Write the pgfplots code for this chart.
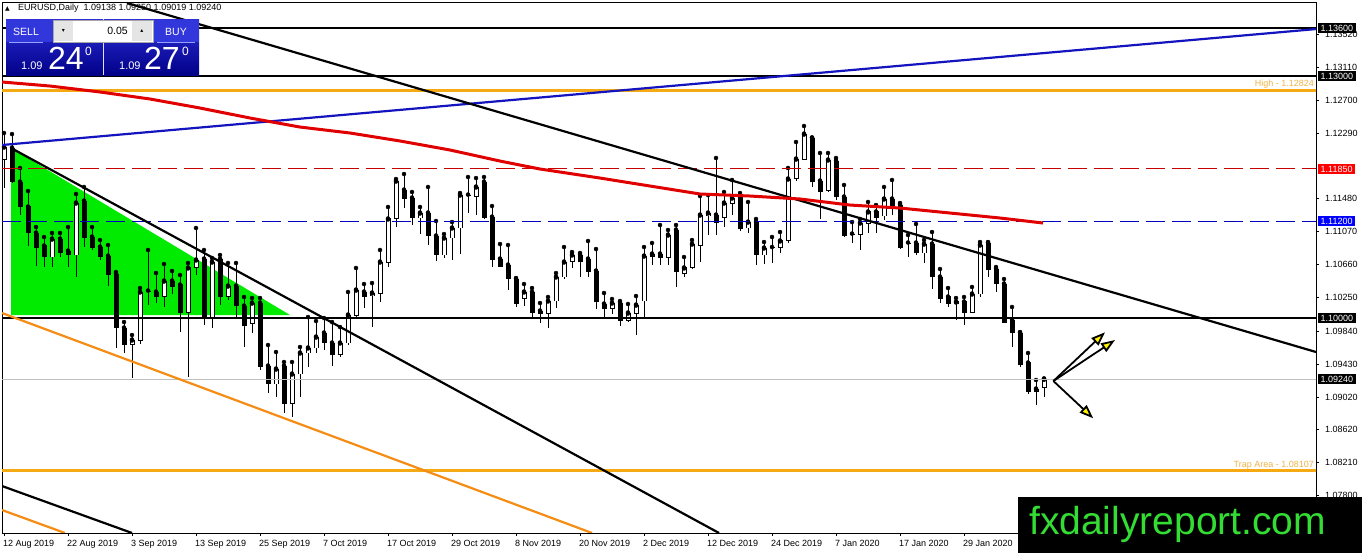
\documentclass[border=0pt]{standalone}
\usepackage{fontspec}
\setmainfont{Liberation Sans}
\newfontfamily\dejavu{DejaVu Sans}
\usepackage{pgfplots}
\pgfplotsset{compat=1.18}
\usepackage{pgfplotstable}
\usetikzlibrary{arrows.meta}

\definecolor{goldline}{RGB}{245,170,20}
\definecolor{orangeline}{RGB}{245,140,20}
\definecolor{goldtext}{RGB}{240,180,70}
\definecolor{mtgreen}{RGB}{0,235,0}
\definecolor{dashblue}{RGB}{0,0,190}
\definecolor{trendblue}{RGB}{20,20,190}
\definecolor{mared}{RGB}{225,0,0}
\definecolor{dashred}{RGB}{200,0,0}
\definecolor{wmgreen}{RGB}{51,221,51}
\definecolor{silverline}{RGB}{192,192,192}
\definecolor{paneltop}{RGB}{45,45,215}
\definecolor{panelbot}{RGB}{0,0,135}
\definecolor{panelhead}{RGB}{50,55,220}
\definecolor{panelrule}{RGB}{150,160,255}

\pgfplotstableread{
i O H L C
0 1.11973 1.12296 1.11613 1.12122
1 1.12110 1.12283 1.11675 1.11688
2 1.11688 1.11862 1.11278 1.11378
3 1.11378 1.11576 1.10894 1.11055
4 1.11055 1.11129 1.10645 1.10881
5 1.10894 1.11005 1.10633 1.10757
6 1.10757 1.11055 1.10633 1.10980
7 1.10980 1.11055 1.10757 1.10807
8 1.10831 1.11129 1.10633 1.10782
9 1.10782 1.11539 1.10509 1.11427
10 1.11452 1.11626 1.10881 1.11005
11 1.11005 1.11129 1.10844 1.10881
12 1.10881 1.10968 1.10720 1.10757
13 1.10769 1.10906 1.10397 1.10546
14 1.10546 1.10571 1.09628 1.09876
15 1.09876 1.09950 1.09566 1.09677
16 1.09677 1.09789 1.09255 1.09727
17 1.09715 1.10372 1.09677 1.10323
18 1.10335 1.10844 1.10161 1.10330
19 1.10323 1.10558 1.10186 1.10261
20 1.10261 1.10670 1.10137 1.10459
21 1.10459 1.10583 1.10298 1.10397
22 1.10410 1.10534 1.09826 1.10074
23 1.10074 1.10683 1.09268 1.10621
24 1.10621 1.11117 1.10534 1.10720
25 1.10732 1.10844 1.09913 1.10012
26 1.09988 1.10745 1.09876 1.10695
27 1.10732 1.10782 1.10161 1.10261
28 1.10261 1.10683 1.10223 1.10397
29 1.10397 1.10683 1.10012 1.10149
30 1.10149 1.10261 1.09640 1.09913
31 1.09926 1.10248 1.09814 1.10186
32 1.10186 1.10248 1.09355 1.09392
33 1.09404 1.09665 1.09069 1.09181
34 1.09181 1.09578 1.09020 1.09367
35 1.09404 1.09454 1.08821 1.08945
36 1.08945 1.09454 1.08771 1.09305
37 1.09305 1.09640 1.09020 1.09566
38 1.09566 1.10012 1.09392 1.09628
39 1.09628 1.09963 1.09566 1.09764
40 1.09814 1.10000 1.09603 1.09690
41 1.09690 1.09950 1.09404 1.09553
42 1.09553 1.09888 1.09516 1.09690
43 1.09690 1.10323 1.09665 1.10037
44 1.10037 1.10621 1.10000 1.10347
45 1.10323 1.10422 1.10124 1.10261
46 1.10273 1.10434 1.09888 1.10310
47 1.10310 1.10844 1.10199 1.10695
48 1.10683 1.11378 1.10633 1.11229
49 1.11229 1.11725 1.11129 1.11700
50 1.11588 1.11787 1.11365 1.11489
51 1.11489 1.11564 1.11154 1.11241
52 1.11241 1.11378 1.11042 1.11303
53 1.11303 1.11626 1.10906 1.11018
54 1.11018 1.11204 1.10707 1.10782
55 1.10782 1.11042 1.10745 1.10993
56 1.10993 1.11191 1.10720 1.11117
57 1.11117 1.11551 1.10794 1.11526
58 1.11520 1.11750 1.11303 1.11526
59 1.11514 1.11737 1.11278 1.11626
60 1.11688 1.11750 1.11229 1.11253
61 1.11253 1.11390 1.10633 1.10732
62 1.10732 1.10918 1.10633 1.10645
63 1.10658 1.10906 1.10347 1.10496
64 1.10484 1.10496 1.10137 1.10174
65 1.10248 1.10422 1.10149 1.10323
66 1.10323 1.10372 1.10012 1.10074
67 1.10087 1.10186 1.09938 1.10050
68 1.10050 1.10261 1.09876 1.10211
69 1.10211 1.10558 1.10124 1.10509
70 1.10509 1.10881 1.10484 1.10695
71 1.10707 1.10819 1.10621 1.10782
72 1.10782 1.10807 1.10509 1.10707
73 1.10732 1.10956 1.10509 1.10571
74 1.10583 1.10856 1.10112 1.10199
75 1.10174 1.10310 1.10012 1.10124
76 1.10124 1.10236 1.10050 1.10186
77 1.10186 1.10211 1.09901 1.09975
78 1.09975 1.10174 1.09950 1.10062
79 1.10062 1.10273 1.09789 1.10161
80 1.10211 1.10881 1.10012 1.10769
81 1.10769 1.10931 1.10658 1.10794
82 1.10794 1.11154 1.10658 1.10745
83 1.10745 1.11092 1.10658 1.11030
84 1.11092 1.11154 1.10385 1.10583
85 1.10558 1.10757 1.10509 1.10621
86 1.10621 1.10968 1.10608 1.10918
87 1.10894 1.11514 1.10695 1.11278
88 1.11266 1.11526 1.11030 1.11303
89 1.11278 1.11986 1.11030 1.11179
90 1.11253 1.11564 1.11129 1.11427
91 1.11427 1.11713 1.11278 1.11489
92 1.11502 1.11551 1.11080 1.11105
93 1.11117 1.11440 1.11055 1.11191
94 1.11191 1.11229 1.10658 1.10782
95 1.10782 1.10943 1.10670 1.10869
96 1.10869 1.11005 1.10683 1.10875
97 1.10881 1.11067 1.10807 1.10956
98 1.10956 1.11862 1.10931 1.11725
99 1.11737 1.12184 1.11700 1.11973
100 1.11973 1.12383 1.11961 1.12283
101 1.12234 1.12240 1.11626 1.11688
102 1.11700 1.12048 1.11229 1.11576
103 1.11588 1.12048 1.11564 1.11961
104 1.11948 1.11986 1.11464 1.11502
105 1.11502 1.11651 1.11005 1.11030
106 1.11042 1.11191 1.10931 1.11036
107 1.11042 1.11229 1.10844 1.11179
108 1.11167 1.11440 1.11055 1.11316
109 1.11316 1.11402 1.11055 1.11253
110 1.11266 1.11626 1.11216 1.11477
111 1.11477 1.11713 1.11278 1.11390
112 1.11402 1.11427 1.10856 1.10881
113 1.10931 1.11030 1.10757 1.10925
114 1.10931 1.11167 1.10782 1.10807
115 1.10807 1.10968 1.10683 1.10918
116 1.10918 1.11067 1.10360 1.10509
117 1.10509 1.10608 1.10186 1.10236
118 1.10261 1.10372 1.10137 1.10174
119 1.10174 1.10248 1.09975 1.10199
120 1.10199 1.10261 1.09913 1.10074
121 1.10074 1.10385 1.10062 1.10298
122 1.10298 1.10943 1.10261 1.10906
123 1.10931 1.10943 1.10509 1.10596
124 1.10608 1.10633 1.10323 1.10422
125 1.10422 1.10484 1.09938 1.09950
126 1.09975 1.10137 1.09640 1.09814
127 1.09814 1.09826 1.09392 1.09417
128 1.09442 1.09566 1.09057 1.09082
129 1.09082 1.09231 1.08920 1.09119
130 1.09138 1.09250 1.09019 1.09240
}\candles

\begin{document}
\begin{tikzpicture}[x=1pt,y=1pt]
\fill[white] (0,0) rectangle (1362,553);
\begin{axis}[
  at={(2pt,20pt)}, anchor=south west,
  scale only axis, width=1314pt, height=531pt,
  xmin=-0.25, xmax=164, ymin=1.07332, ymax=1.13922,
  clip mode=individual,
  axis line style={black, line width=0.9pt},
  xtick pos=left, ytick pos=right, yticklabel pos=right,
  tick align=outside, major tick length=3pt,
  tick style={black, line width=0.8pt},
  ticklabel style={font=\fontsize{9}{10}\selectfont, inner sep=0pt},
  xtick={0,8,...,120},
  xticklabels={12 Aug 2019, 22 Aug 2019, 3 Sep 2019, 13 Sep 2019, 25 Sep 2019, 7 Oct 2019, 17 Oct 2019, 29 Oct 2019, 8 Nov 2019, 20 Nov 2019, 2 Dec 2019, 12 Dec 2019, 24 Dec 2019, 7 Jan 2020, 17 Jan 2020, 29 Jan 2020},
  xticklabel style={anchor=north west, xshift=-1pt, yshift=-4.5pt},
  ytick={1.0780,1.0821,1.0862,1.0902,1.0943,1.0984,1.1025,1.1066,1.1107,1.1148,1.1229,1.1270,1.1311,1.1352},
  yticklabels={1.07800,1.08210,1.08620,1.09020,1.09430,1.09840,1.10250,1.10660,1.11070,1.11480,1.12290,1.12700,1.13110,1.13520},
  yticklabel style={anchor=west, xshift=6pt},
]
% green triangle
\addplot[fill=mtgreen, draw=none] coordinates {(0.875,1.12110) (0.875,1.10037) (35.75,1.10037)} -- cycle;

% wicks
\addplot[only marks, mark=none, error bars/.cd, y dir=minus, y explicit, error mark=none,
  error bar style={black, line width=1pt}]
  table[x=i, y=H, y error expr=\thisrow{H}-\thisrow{L}] {\candles};
% black bodies
\addplot[only marks, mark=none, restrict expr to domain={\thisrow{O}-\thisrow{C}}{0:1},
  error bars/.cd, y dir=minus, y explicit, error mark=none,
  error bar style={black, line width=5pt}]
  table[x=i, y expr=\thisrow{O}+0.00006, y error expr=\thisrow{O}-\thisrow{C}+0.00012] {\candles};
% white bodies: outline
\addplot[only marks, mark=none, restrict expr to domain={\thisrow{C}-\thisrow{O}}{0:1},
  error bars/.cd, y dir=minus, y explicit, error mark=none,
  error bar style={black, line width=5pt}]
  table[x=i, y expr=\thisrow{C}+0.00006, y error expr=\thisrow{C}-\thisrow{O}+0.00012] {\candles};
% white bodies: inside
\addplot[only marks, mark=none, restrict expr to domain={\thisrow{C}-\thisrow{O}}{0.00015:1},
  error bars/.cd, y dir=minus, y explicit, error mark=none,
  error bar style={white, line width=3pt}]
  table[x=i, y expr=\thisrow{C}-0.00006, y error expr=\thisrow{C}-\thisrow{O}-0.00012] {\candles};

% horizontal levels
\addplot[black, line width=2.2pt] coordinates {(-1,1.13600) (170,1.13600)};
\addplot[black, line width=2.2pt] coordinates {(-1,1.13000) (170,1.13000)};
\addplot[goldline, line width=2.8pt] coordinates {(-1,1.12824) (170,1.12824)};
\addplot[dashred, line width=1pt, dash pattern=on 19pt off 7pt] coordinates {(-0.25,1.11850) (170,1.11850)};
\addplot[dashblue, line width=1pt, dash pattern=on 19pt off 7pt] coordinates {(-0.25,1.11200) (170,1.11200)};
\addplot[black, line width=2.2pt] coordinates {(-1,1.10000) (170,1.10000)};
\addplot[silverline, line width=0.9pt] coordinates {(-1,1.09240) (170,1.09240)};
\addplot[goldline, line width=2.4pt] coordinates {(-1,1.08107) (170,1.08107)};

% trend lines
\addplot[trendblue, line width=2.2pt] coordinates {(-0.25,1.12147) (164,1.13586)};
\addplot[black, line width=2.2pt] coordinates {(15.375,1.13909) (164,1.09578)};
\addplot[black, line width=2.2pt] coordinates {(0.875,1.12110) (89.375,1.07332)};
\addplot[black, line width=2.2pt] coordinates {(-0.25,1.07915) (16,1.07332)};
\addplot[orangeline, line width=2.2pt] coordinates {(-0.25,1.10062) (73.5,1.07332)};
\addplot[orangeline, line width=2.2pt] coordinates {(-0.25,1.07617) (7.625,1.07332)};

% moving average
\addplot[mared, line width=3pt] coordinates {
(-0.25,1.12929) (5.75,1.12879) (12,1.12805) (18.25,1.12718) (24.5,1.12606)
(30.75,1.12482) (37,1.12370) (43.25,1.12296) (49.5,1.12197) (55.75,1.12085)
(62,1.11948) (67,1.11849) (74.5,1.11737) (80.75,1.11638) (87,1.11539)
(93.25,1.11514) (99.5,1.11477) (105.75,1.11402) (112,1.11365) (118.25,1.11303)
(124.5,1.11241) (129.875,1.11179)};

% arrows
\addplot[black, line width=1.8pt, -{Triangle[length=14pt, width=10pt, fill=yellow]}] coordinates {(131.17,1.09218) (137.625,1.09823)};
\addplot[black, line width=1.8pt, -{Triangle[length=14pt, width=10pt, fill=yellow]}] coordinates {(131.17,1.09218) (138.875,1.09727)};
\addplot[black, line width=1.8pt, -{Triangle[length=14pt, width=10pt, fill=yellow]}] coordinates {(131.17,1.09218) (136.16,1.08755)};

\coordinate (b1) at (axis cs:164,1.13600);
\coordinate (b2) at (axis cs:164,1.13000);
\coordinate (b3) at (axis cs:164,1.11850);
\coordinate (b4) at (axis cs:164,1.11200);
\coordinate (b5) at (axis cs:164,1.10000);
\coordinate (b6) at (axis cs:164,1.09240);
\end{axis}

% price boxes
\tikzset{pbox/.style={anchor=west, inner xsep=2.5pt, inner ysep=1.8pt, text=white, font=\fontsize{9}{10}\selectfont}}
\node[pbox, fill=black] at ([xshift=2pt]b1) {1.13600};
\node[pbox, fill=black] at ([xshift=2pt]b2) {1.13000};
\node[pbox, fill=red] at ([xshift=2pt]b3) {1.11850};
\node[pbox, fill=blue] at ([xshift=2pt]b4) {1.11200};
\node[pbox, fill=black] at ([xshift=2pt]b5) {1.10000};
\node[pbox, fill=black] at ([xshift=2pt]b6) {1.09240};

% level captions
\node[anchor=base east, inner sep=0, text=goldtext, font=\fontsize{9}{10}\selectfont] at (1314,466) {High - 1.12824};
\node[anchor=base east, inner sep=0, text=goldtext, font=\fontsize{9}{10}\selectfont] at (1314,85) {Trap Area - 1.08107};

% header
\node[anchor=base west, inner sep=0, font=\dejavu\fontsize{6}{7}\selectfont] at (5,542) {▲};
\node[anchor=base west, inner sep=0, font=\fontsize{9}{10}\selectfont] at (18,542) {EURUSD,Daily\hspace{5pt}1.09138 1.09250 1.09019 1.09240};

% trade panel
\shade[top color=paneltop, bottom color=panelbot] (6,477) rectangle (103,533);
\shade[top color=paneltop, bottom color=panelbot] (104,477) rectangle (199,533);
\fill[panelhead] (6,511) rectangle (103,533);
\fill[panelhead] (104,511) rectangle (199,533);
\draw[panelrule, line width=0.8pt] (9,511) -- (43,511);
\draw[panelrule, line width=0.8pt] (157,511) -- (195,511);
\fill[white] (53,511) rectangle (153,533);
\draw[gray!70, line width=0.5pt] (53,511) rectangle (153,533);
\fill[gray!20] (54,512) rectangle (73,532);
\fill[gray!20] (132,512) rectangle (152,532);
\node[font=\dejavu\fontsize{6}{7}\selectfont] at (63.5,522) {▾};
\node[font=\dejavu\fontsize{6}{7}\selectfont] at (142,522) {▴};
\node[anchor=east, inner sep=0, font=\fontsize{10.5}{11}\selectfont] at (128,522) {0.05};
\node[text=white, inner sep=0, font=\fontsize{10.5}{11}\selectfont] at (26,521.5) {SELL};
\node[text=white, inner sep=0, font=\fontsize{10.5}{11}\selectfont] at (176,521.5) {BUY};
\node[anchor=base west, inner sep=0, text=white, font=\fontsize{11}{12}\selectfont] at (21,483) {1.09};
\node[anchor=base west, inner sep=0, text=white, font=\fontsize{32}{32}\selectfont] at (48,483) {24};
\node[anchor=base west, inner sep=0, text=white, font=\fontsize{12}{12}\selectfont] at (85,497) {0};
\node[anchor=base west, inner sep=0, text=white, font=\fontsize{11}{12}\selectfont] at (119,483) {1.09};
\node[anchor=base west, inner sep=0, text=white, font=\fontsize{32}{32}\selectfont] at (144,483) {27};
\node[anchor=base west, inner sep=0, text=white, font=\fontsize{12}{12}\selectfont] at (182,497) {0};

% watermark
\fill[black] (1018,0) rectangle (1362,56);
\node[anchor=base west, inner sep=0, text=wmgreen, font=\fontsize{39}{39}\selectfont] at (1029,18) {fxdailyreport.com};

\pgfresetboundingbox
\useasboundingbox (0,0) rectangle (1362,553);
\end{tikzpicture}
\end{document}
